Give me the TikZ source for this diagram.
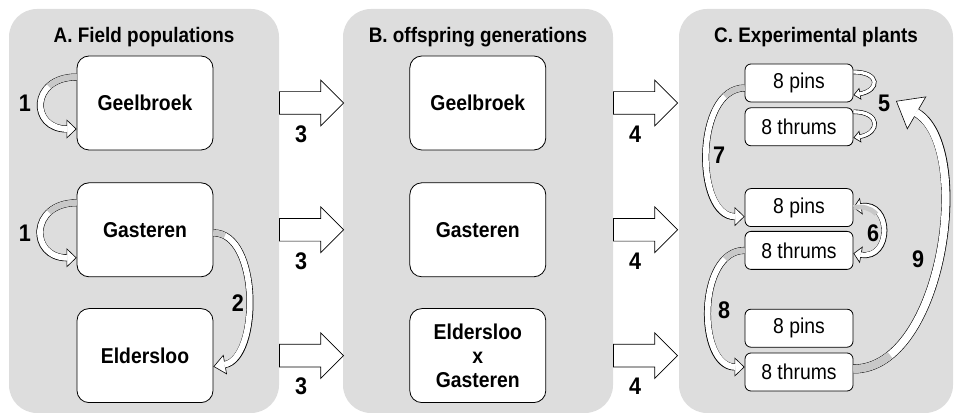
\documentclass[tikz,border=0pt]{standalone}
\usepackage{fontspec}
\setmainfont{Liberation Sans}[FakeStretch=0.9]
\usetikzlibrary{positioning, shapes.arrows, arrows.meta}

\definecolor{panelgray}{RGB}{221,221,221}
\definecolor{undergray}{RGB}{200,200,200}

\tikzset{
    panel/.style={fill=panelgray, rounded corners=28pt, minimum width=270pt, minimum height=404pt, inner sep=0pt},
    ttl/.style={font=\fontsize{21}{24}\selectfont\bfseries},
    pop/.style={draw, fill=white, line width=0.8pt, rounded corners=12pt, minimum width=136pt, minimum height=94pt, align=center, font=\fontsize{21.5}{24}\selectfont\bfseries},
    grp/.style={draw, fill=white, line width=0.8pt, rounded corners=6pt, minimum width=108pt, minimum height=38pt, inner sep=2pt, font=\fontsize{21.5}{24}\selectfont},
    num/.style={font=\fontsize{24}{26}\selectfont\bfseries},
    bigarrow/.style={single arrow, draw, fill=white, line width=0.7pt, minimum height=64pt, single arrow head extend=11.5pt, inner xsep=0pt, inner ysep=11pt},
    flow/.style n args={3}{draw=black, line width=#1, -{Triangle[length=#2, width=#3, line width=0.6pt, fill=white]},
        postaction={draw=white, line width=#1-1.2pt, -, shorten >=#2-1pt}},
    flowboth/.style n args={3}{draw=black, line width=#1, {Triangle[length=#2, width=#3, line width=0.6pt, fill=white]}-{Triangle[length=#2, width=#3, line width=0.6pt, fill=white]},
        postaction={draw=white, line width=#1-1.2pt, -, shorten >=#2-1pt, shorten <=#2-1pt}},
    under/.style 2 args={postaction={draw=undergray, line width=#1, -, dash pattern=on #2 off 3000pt}},
}

\begin{document}
\begin{tikzpicture}[x=1pt, y=1pt]
    \useasboundingbox (0,0) rectangle (955,417);

    % panels
    \node[panel] (pa) at (144,206) {};
    \node[panel] (pb) at (478,206) {};
    \node[panel, minimum width=274pt] (pc) at (816,206) {};
    \node[ttl] (ta) at ([yshift=-28pt]pa.north) {A. Field populations};
    \node[ttl] (tb) at ([yshift=-28pt]pb.north) {B. offspring generations};
    \node[ttl] (tc) at ([yshift=-28pt]pc.north) {C. Experimental plants};

    % A. field populations
    \node[pop] (gA) at (145,314) {Geelbroek};
    \node[pop, below=32pt of gA] (sA) {Gasteren};
    \node[pop, below=31pt of sA] (eA) {Eldersloo};

    % B. offspring
    \node[pop, right=196pt of gA] (gB) {Geelbroek};
    \node[pop, right=196pt of sA] (sB) {Gasteren};
    \node[pop, right=196pt of eA] (eB) {Eldersloo\\x\\Gasteren};

    % C. experimental plants
    \node[grp] (p1) at (799,334) {8 pins};
    \node[grp, below=5pt of p1] (t1) {8 thrums};
    \node[grp, below=42pt of t1] (p2) {8 pins};
    \node[grp, below=4pt of p2] (t2) {8 thrums};
    \node[grp, below=39pt of t2] (p3) {8 pins};
    \node[grp, below=5pt of p3] (t3) {8 thrums};

    % block arrows between panels
    \node[bigarrow, anchor=west] (a3a) at (pa.east |- gA) {};
    \node[bigarrow, anchor=west] (a3b) at (pa.east |- sA) {};
    \node[bigarrow, anchor=west] (a3c) at (pa.east |- eA) {};
    \node[bigarrow, anchor=west] (a4a) at (pb.east |- gA) {};
    \node[bigarrow, anchor=west] (a4b) at (pb.east |- sA) {};
    \node[bigarrow, anchor=west] (a4c) at (pb.east |- eA) {};
    \foreach \a/\n in {a3a/3, a3b/3, a3c/3, a4a/4, a4b/4, a4c/4}
        \node[num] at ([shift={(22pt,-31pt)}]\a.west) {\n};

    % curved arrows
    \coordinate (e9) at (896,316);
    \draw[flow={7pt}{10pt}{19pt}, under={5.8pt}{30pt}] ([yshift=26pt]gA.west) to[out=180, in=180, looseness=2.3] ([yshift=-26pt]gA.west);
    \draw[flow={7pt}{10pt}{19pt}, under={5.8pt}{30pt}] ([yshift=27pt]sA.west) to[out=180, in=180, looseness=2.2] ([yshift=-28pt]sA.west);
    \draw[flow={7pt}{12pt}{20pt}, under={5.8pt}{12pt}] ([yshift=-3pt]sA.east) to[out=0, in=10, looseness=0.9] ([yshift=-11pt]eA.east);
    \draw[flow={4.5pt}{7pt}{12pt}] ([yshift=11pt]p1.east) to[out=0, in=10, looseness=3] ([yshift=-12pt]p1.east);
    \draw[flow={4.5pt}{7pt}{12pt}] ([yshift=15pt]t1.east) to[out=0, in=10, looseness=2.7] ([yshift=-11pt]t1.east);
    \draw[flowboth={6pt}{8pt}{17pt}, under={4.8pt}{25pt}] (p2.east) to[out=10, in=-10, looseness=2.2] ([yshift=-3pt]t2.east);
    \draw[flow={7pt}{10pt}{19pt}, under={5.8pt}{22pt}] ([yshift=-5pt]p1.west) to[out=180, in=180, looseness=1.0] ([yshift=-9pt]p2.west);
    \draw[flow={7pt}{10pt}{19pt}, under={5.8pt}{22pt}] (t2.west) to[out=180, in=180, looseness=1.05] ([yshift=5pt]t3.west);
    \draw[flow={9pt}{24pt}{38pt}, under={7.8pt}{40pt}] ([yshift=3pt]t3.east) to[out=0, in=-30, looseness=0.85] (e9);

    % numbers
    \node[num] (n1a) at (25,314) {1};
    \node[num] (n1b) at (25,184) {1};
    \node[num] (n2) at (238,114) {2};
    \node[num] (n5) at (884,314) {5};
    \node[num] (n6) at (873,184) {6};
    \node[num] (n7) at (719,262) {7};
    \node[num] (n8) at (724,107) {8};
    \node[num] (n9) at (918,158) {9};
\end{tikzpicture}
\end{document}
